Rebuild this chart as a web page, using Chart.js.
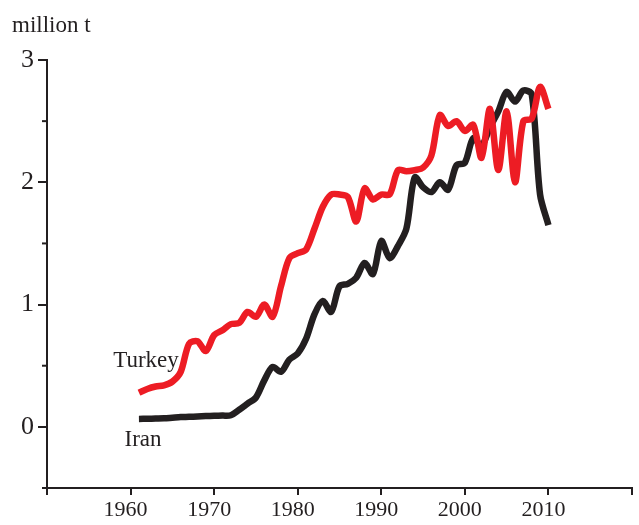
<!DOCTYPE html>
<html>
<head>
<meta charset="utf-8">
<script src="https://cdn.jsdelivr.net/npm/chart.js@4"></script>
<style>
html, body { margin: 0; padding: 0; background: #fff; }
#wrap { width: 639px; height: 525px; }
</style>
</head>
<body>
<div id="wrap"><canvas id="c" width="639" height="525"></canvas></div>
<script>
// years and production (million t)
const years = [
  1961, 1962, 1963, 1964, 1965, 1966, 1967, 1968, 1969, 1970,
  1971, 1972, 1973, 1974, 1975, 1976, 1977, 1978, 1979, 1980,
  1981, 1982, 1983, 1984, 1985, 1986, 1987, 1988, 1989, 1990,
  1991, 1992, 1993, 1994, 1995, 1996, 1997, 1998, 1999, 2000,
  2001, 2002, 2003, 2004, 2005, 2006, 2007, 2008, 2009, 2010
];
const turkey = [
  0.28, 0.31, 0.33, 0.34, 0.37, 0.45, 0.68, 0.70, 0.62, 0.75,
  0.79, 0.84, 0.85, 0.94, 0.90, 1.00, 0.90, 1.15, 1.38, 1.42,
  1.45, 1.62, 1.80, 1.90, 1.90, 1.88, 1.68, 1.95, 1.86, 1.90,
  1.90, 2.10, 2.09, 2.10, 2.12, 2.22, 2.55, 2.46, 2.50, 2.42,
  2.47, 2.20, 2.60, 2.10, 2.58, 2.00, 2.50, 2.52, 2.78, 2.60
];
const iran = [
  0.065, 0.066, 0.068, 0.07, 0.075, 0.08, 0.082, 0.085, 0.088, 0.09,
  0.092, 0.095, 0.14, 0.19, 0.24, 0.38, 0.49, 0.45, 0.55, 0.60,
  0.72, 0.92, 1.03, 0.94, 1.15, 1.17, 1.22, 1.34, 1.25, 1.52,
  1.38, 1.48, 1.62, 2.04, 1.96, 1.92, 2.00, 1.94, 2.14, 2.16,
  2.36, 2.30, 2.45, 2.58, 2.74, 2.66, 2.75, 2.72, 1.90, 1.65
];
const yMajor = [0, 1, 2, 3];
const yMinor = [-0.5, 0.5, 1.5, 2.5];

const ink = '#231f20';
const serif = '"Liberation Serif", "Times New Roman", serif';

// minor y ticks + text labels
const extras = {
  id: 'extras',
  afterDraw(chart) {
    const ctx = chart.ctx;
    const y = chart.scales.y;
    const left = chart.chartArea.left;
    ctx.save();
    ctx.strokeStyle = ink;
    ctx.lineWidth = 2;
    yMinor.forEach(v => {
      const py = y.getPixelForValue(v);
      ctx.beginPath();
      ctx.moveTo(left - 5, py);
      ctx.lineTo(left, py);
      ctx.stroke();
    });
    ctx.fillStyle = ink;
    ctx.textBaseline = 'alphabetic';
    ctx.font = '23px ' + serif;
    ctx.textAlign = 'left';
    ctx.fillText('million t', 12, 32);
    ctx.textAlign = 'center';
    ctx.fillText('Turkey', 146, 367);
    ctx.fillText('Iran', 143, 446);
    ctx.restore();
  }
};

new Chart(document.getElementById('c'), {
  type: 'line',
  data: {
    datasets: [
      {
        label: 'Turkey',
        data: years.map((yr, i) => ({ x: yr, y: turkey[i] })),
        borderColor: '#ed1c24',
        borderWidth: 6.5,
        pointRadius: 0,
        tension: 0.3,
        fill: false
      },
      {
        label: 'Iran',
        data: years.map((yr, i) => ({ x: yr, y: iran[i] })),
        borderColor: ink,
        borderWidth: 6.5,
        pointRadius: 0,
        tension: 0.3,
        fill: false
      }
    ]
  },
  options: {
    responsive: false,
    animation: false,
    layout: { padding: { top: 60, right: 7, left: 0, bottom: 0 } },
    plugins: { legend: { display: false }, tooltip: { enabled: false } },
    scales: {
      x: {
        type: 'linear',
        min: 1950,
        max: 2020,
        afterFit: s => { s.height = 37; },
        ticks: {
          stepSize: 10,
          autoSkip: false,
          maxRotation: 0,
          labelOffset: -5,
          padding: 2,
          color: ink,
          font: { family: serif, size: 22 },
          callback: v => (v === 1950 || v === 2020) ? '' : String(v)
        },
        grid: { drawOnChartArea: false, tickLength: 7, color: ink, lineWidth: 2 },
        border: { display: true, color: ink, width: 2 }
      },
      y: {
        min: -0.5,
        max: 3,
        afterFit: s => { s.width = 47; },
        afterBuildTicks: s => { s.ticks = yMajor.map(v => ({ value: v })); },
        ticks: {
          padding: 4,
          color: ink,
          font: { family: serif, size: 26 },
          callback: v => String(v)
        },
        grid: { drawOnChartArea: false, tickLength: 9, color: ink, lineWidth: 2 },
        border: { display: true, color: ink, width: 2 }
      }
    }
  },
  plugins: [extras]
});
</script>
</body>
</html>
